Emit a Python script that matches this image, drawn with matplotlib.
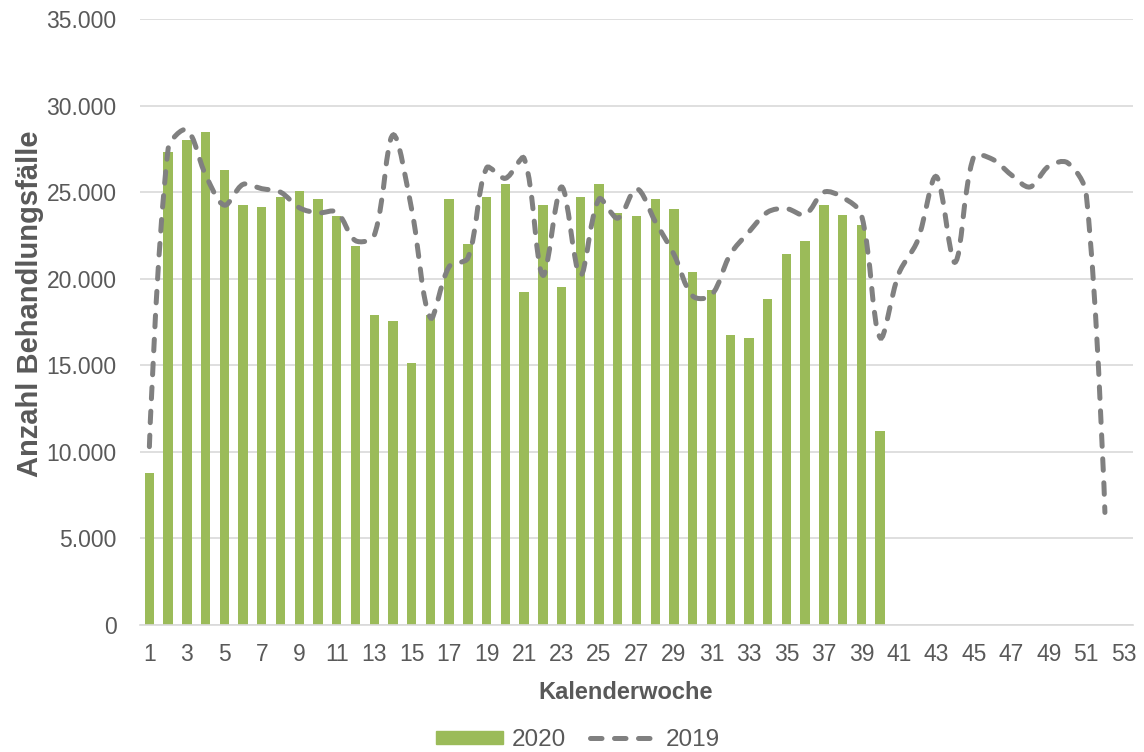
import numpy as np
import matplotlib
matplotlib.use("Agg")
import matplotlib.pyplot as plt
import matplotlib.transforms as mtransforms
from matplotlib.path import Path
from matplotlib.patches import PathPatch
from matplotlib.lines import Line2D
from matplotlib.ticker import FuncFormatter

plt.rcParams['font.family'] = ['Liberation Sans', 'DejaVu Sans']

# Kalenderwochen 1..53 on the axis
weeks = list(range(1, 54))
week_labels = [str(w) if w % 2 == 1 else '' for w in weeks]

# Behandlungsfaelle 2020 (KW 1-40)
cases_2020 = [8800, 27300, 28000, 28450, 26300, 24250, 24150, 24700, 25050, 24600,
              23600, 21900, 17900, 17550, 15150, 17900, 24600, 22000, 24700, 25500,
              19250, 24250, 19500, 24700, 25500, 23800, 23600, 24600, 24050, 20400,
              19350, 16750, 16550, 18800, 21450, 22200, 24250, 23700, 23100, 11200]

# Behandlungsfaelle 2019 (KW 1-52)
cases_2019 = [10300, 27500, 28600, 26000, 24250, 25450, 25200, 25000, 24100, 23800,
              23850, 22200, 22500, 28300, 24000, 17750, 20700, 21200, 26400, 25800,
              26950, 20200, 25300, 20200, 24600, 23500, 25200, 23300, 21400, 19000,
              19050, 21400, 22700, 23850, 24050, 23700, 25000, 24700, 23700, 16600,
              20300, 22200, 25900, 20950, 27050, 26900, 26000, 25300, 26500, 26700,
              24900, 6500]

green = '#9BBB59'
grey_line = '#808080'
text_grey = '#595959'
grid_grey = '#D9D9D9'


def smooth_path(ax, x, y, s=0.5):
    # excel-like smoothed line, tangents weighted by chord length on screen
    pts = np.column_stack([x, y]).astype(float)
    scr = ax.transData.transform(pts)
    n = len(pts)
    verts = [pts[0]]
    codes = [Path.MOVETO]
    for i in range(n - 1):
        i0 = max(i - 1, 0)
        i3 = min(i + 2, n - 1)
        d01 = np.hypot(*(scr[i] - scr[i0]))
        d12 = np.hypot(*(scr[i + 1] - scr[i]))
        d23 = np.hypot(*(scr[i3] - scr[i + 1]))
        f1 = s * d12 / (d01 + d12) if d01 + d12 > 0 else 0
        f2 = s * d12 / (d12 + d23) if d12 + d23 > 0 else 0
        c1 = pts[i] + (pts[i + 1] - pts[i0]) * f1 * (2.0 / 3.0 if i > 0 else 0.0)
        c2 = pts[i + 1] - (pts[i3] - pts[i]) * f2 * (2.0 / 3.0 if i + 2 < n else 0.0)
        verts += [c1, c2, pts[i + 1]]
        codes += [Path.CURVE4] * 3
    return Path(verts, codes)


fig = plt.figure(figsize=(11.44, 7.52), dpi=100)
ax = fig.add_axes([0.1224, 0.1689, 0.868, 0.8058])
ax.set_xlim(0.5, 53.5)
ax.set_ylim(0, 35000)

x20 = np.arange(1, len(cases_2020) + 1)
x19 = np.arange(1, len(cases_2019) + 1)

ax.bar(x20, cases_2020, width=0.5, color=green, zorder=2)

lw = 3.6
dash = (2.3, 2.5)
line_patch = PathPatch(smooth_path(ax, x19, cases_2019), facecolor='none',
                       edgecolor=grey_line, linewidth=lw, linestyle=(0, dash),
                       capstyle='round', zorder=3)
ax.add_patch(line_patch)

ax.set_yticks(np.arange(0, 35001, 5000))
ax.yaxis.set_major_formatter(FuncFormatter(lambda v, p: f'{int(v):,}'.replace(',', '.')))
ax.set_xticks(weeks)
ax.set_xticklabels(week_labels)

ax.grid(axis='y', color=grid_grey, linewidth=1.2, zorder=0)
ax.set_axisbelow(True)
for s in ['top', 'right', 'left']:
    ax.spines[s].set_visible(False)
ax.spines['bottom'].set_color(grid_grey)
ax.spines['bottom'].set_linewidth(1.2)
ax.tick_params(axis='both', length=0, labelsize=16.5, labelcolor=text_grey)
ax.tick_params(axis='x', pad=13)
ax.tick_params(axis='y', pad=17)

ax.set_xlabel('Kalenderwoche', fontsize=17, fontweight='bold', color=text_grey)
ax.xaxis.set_label_coords(0.4895, -0.093)
ax.set_ylabel('Anzahl Behandlungsfälle', fontsize=21, fontweight='bold',
              color=text_grey, va='center')
ylab_trans = mtransforms.blended_transform_factory(fig.transFigure, ax.transAxes)
ax.yaxis.set_label_coords(30 / 1144, 0.53, transform=ylab_trans)

handles = [plt.Rectangle((0, 0), 1, 1, color=green),
           Line2D([0], [0], color=grey_line, linewidth=lw, linestyle=(0, dash),
                  dash_capstyle='round')]
leg = fig.legend(handles, ['2020', '2019'], loc='center', bbox_to_anchor=(0.505, 0.016),
                 ncol=2, frameon=False, fontsize=17.5, handlelength=2.75, handleheight=0.45,
                 columnspacing=1.0, handletextpad=0.35, borderaxespad=0)
for t in leg.get_texts():
    t.set_color(text_grey)

fig.savefig('out.png', dpi=100)
